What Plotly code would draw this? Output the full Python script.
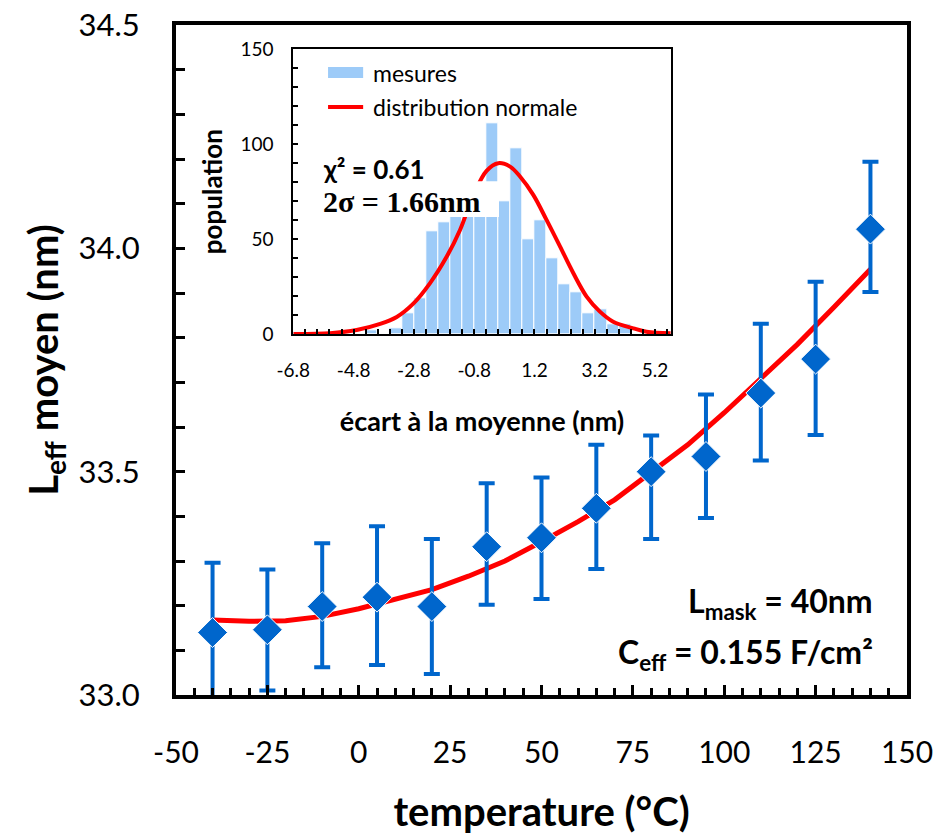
import plotly.graph_objects as go

# ---------------- main data ----------------
temps = [-40, -25, -10, 5, 20, 35, 50, 65, 80, 95, 110, 125, 140]
leff = [33.140, 33.146, 33.198, 33.219, 33.198, 33.332, 33.352, 33.418, 33.500, 33.534, 33.676, 33.752, 34.043]
err_plus = [0.156, 0.135, 0.142, 0.159, 0.151, 0.142, 0.135, 0.142, 0.081, 0.139, 0.155, 0.173, 0.151]
err_minus = [0.151, 0.136, 0.136, 0.152, 0.151, 0.130, 0.137, 0.136, 0.151, 0.138, 0.151, 0.170, 0.141]

fit_t = [-40, -30, -20, -10, 0, 10, 20, 30, 40, 50, 60, 70, 80, 90, 100, 110, 120, 130, 140]
fit_l = [33.168, 33.165, 33.166, 33.176, 33.193, 33.214, 33.236, 33.266, 33.300, 33.343, 33.388,
         33.437, 33.497, 33.560, 33.632, 33.707, 33.785, 33.868, 33.953]
x_ticks = [-50, -25, 0, 25, 50, 75, 100, 125, 150]
y_ticks = [33.0, 33.5, 34.0, 34.5]

# ---------------- inset data ----------------
bin_centers = [-6.6 + 0.4 * i for i in range(31)]
counts = [1, 0, 0, 0, 0, 0, 2, 0, 3, 11, 19, 54, 59, 65, 66, 70, 111, 70, 98, 50,
          60, 40, 26, 22, 11, 13, 5, 5, 0, 0, 0]
norm_x = [-6.8, -5.58, -4.70, -3.92, -3.37, -2.82, -2.27, -1.71, -1.27, -0.83, -0.39, 0.0,
          0.39, 0.72, 1.16, 1.60, 2.05, 2.49, 2.93, 3.37, 3.81, 4.48, 4.92, 5.72]
norm_y = [0.0, 0.4, 2.1, 5.3, 9.0, 16.0, 26.7, 40.8, 54.8, 73.0, 86.0, 90.0,
          88.2, 83.0, 73.3, 60.1, 46.0, 32.0, 19.7, 11.8, 6.5, 3.0, 1.2, 0.4]
inset_xticks = [-6.8, -4.8, -2.8, -0.8, 1.2, 3.2, 5.2]
inset_yticks = [0, 50, 100, 150]

BLUE = "#0066CC"
RED = "#FF0000"
FONT = "Lato"

fig = go.Figure()

fig.add_trace(go.Scatter(
    x=fit_t, y=fit_l, mode="lines", line=dict(color=RED, width=5), showlegend=False,
    xaxis="x", yaxis="y"))
fig.add_trace(go.Scatter(
    x=temps, y=leff, mode="markers", showlegend=False, cliponaxis=False,
    marker=dict(symbol="diamond", size=23, color=BLUE, line=dict(color="white", width=1)),
    error_y=dict(type="data", symmetric=False, array=err_plus, arrayminus=err_minus,
                 color=BLUE, thickness=4, width=8),
    xaxis="x", yaxis="y"))

# inset
fig.add_trace(go.Bar(
    x=bin_centers, y=counts, marker=dict(color="#9DCBF8", line=dict(color="white", width=1)),
    width=0.4, showlegend=False, xaxis="x2", yaxis="y2"))
fig.add_trace(go.Scatter(
    x=norm_x, y=norm_y, mode="lines", line=dict(color=RED, width=4, shape="spline"),
    showlegend=False, xaxis="x2", yaxis="y2"))

axis_common = dict(showline=True, linecolor="black", mirror=True, showgrid=False,
                   zeroline=False, ticks="inside", tickcolor="black", automargin=False)

fig.update_layout(
    width=938, height=835,
    margin=dict(l=176, r=31, t=25, b=140),
    paper_bgcolor="white", plot_bgcolor="white",
    font=dict(family=FONT, color="black"),
    bargap=0,
    xaxis=dict(**axis_common, range=[-50, 150], tickvals=x_ticks,
               ticktext=[str(v) for v in x_ticks], linewidth=4,
               ticklen=10, tickwidth=3, tickfont=dict(size=30), ticklabelstandoff=28,
               minor=dict(ticks="inside", dtick=5, tick0=-50, ticklen=7, tickwidth=3, tickcolor="black"),
               title=dict(text="<b>temperature (°C)</b>", font=dict(size=40), standoff=34)),
    yaxis=dict(**axis_common, range=[33.0, 34.5], tickvals=y_ticks,
               ticktext=[f"{v:.1f}" for v in y_ticks],
               linewidth=4, ticklen=9, tickwidth=3, tickfont=dict(size=31), ticklabelstandoff=26,
               minor=dict(ticks="inside", dtick=0.1, tick0=33.0, ticklen=9, tickwidth=3, tickcolor="black"),
               title=dict(text="<b>L<sub>eff</sub> moyen (nm)</b>", font=dict(size=40), standoff=9)),
    xaxis2=dict(**axis_common, domain=[0.1605, 0.6768], anchor="y2", range=[-6.8, 5.72],
                tickvals=inset_xticks, ticktext=[str(v) for v in inset_xticks],
                linewidth=2, ticklen=5, tickwidth=1.5, tickfont=dict(size=19), ticklabelstandoff=18,
                minor=dict(ticks="inside", dtick=0.4, tick0=-6.8, ticklen=5, tickwidth=1.5, tickcolor="black"),
                title=dict(text="<b>écart à la moyenne (nm)</b>", font=dict(size=27), standoff=32)),
    yaxis2=dict(**axis_common, domain=[0.5388, 0.9637], anchor="x2", range=[0, 150],
                tickvals=inset_yticks, ticktext=[str(v) for v in inset_yticks],
                linewidth=2, ticklen=5, tickwidth=1.5,
                tickfont=dict(size=19), ticklabelstandoff=14,
                minor=dict(ticks="inside", dtick=10, tick0=0, ticklen=5, tickwidth=1.5, tickcolor="black"),
                title=dict(text="<b>population</b>", font=dict(size=26), standoff=10)),
)

# inset legend (custom symbols)
fig.add_shape(type="rect", xref="x2 domain", yref="y2 domain", x0=0.092, x1=0.185,
              y0=0.899, y1=0.938, fillcolor="#9DCBF8", line=dict(width=0))
fig.add_shape(type="line", xref="x2 domain", yref="y2 domain", x0=0.092, x1=0.185,
              y0=0.797, y1=0.797, line=dict(color=RED, width=4))
fig.add_annotation(xref="x2 domain", yref="y2 domain", x=0.207, y=0.917, xanchor="left",
                   yanchor="middle", showarrow=False, text="mesures", font=dict(size=23))
fig.add_annotation(xref="x2 domain", yref="y2 domain", x=0.207, y=0.797, xanchor="left",
                   yanchor="middle", showarrow=False, text="distribution normale", font=dict(size=23))

# white box behind stats text
fig.add_shape(type="rect", xref="x2 domain", yref="y2 domain", x0=0.063, x1=0.545,
              y0=0.411, y1=0.537, fillcolor="white", line=dict(width=0), layer="above")
fig.add_annotation(xref="x2 domain", yref="y2 domain", x=0.074, y=0.580, xanchor="left",
                   yanchor="middle", showarrow=False, text="<b>χ² = 0.61</b>",
                   font=dict(size=26, family=FONT))
fig.add_annotation(xref="x2 domain", yref="y2 domain", x=0.074, y=0.464, xanchor="left",
                   yanchor="middle", showarrow=False, text="<b>2σ = 1.66nm</b>",
                   font=dict(size=30, family="Liberation Serif"))

# main annotations
fig.add_annotation(xref="paper", yref="paper", x=(875 - 176) / 731, y=(695 - 603) / 670,
                   xanchor="right", yanchor="middle", showarrow=False,
                   text="<b>L<sub>mask</sub> = 40nm</b>", font=dict(size=32))
fig.add_annotation(xref="paper", yref="paper", x=(875 - 176) / 731, y=(695 - 654) / 670,
                   xanchor="right", yanchor="middle", showarrow=False,
                   text="<b>C<sub>eff</sub> = 0.155 F/cm²</b>", font=dict(size=32))

fig.write_html("out.html")
